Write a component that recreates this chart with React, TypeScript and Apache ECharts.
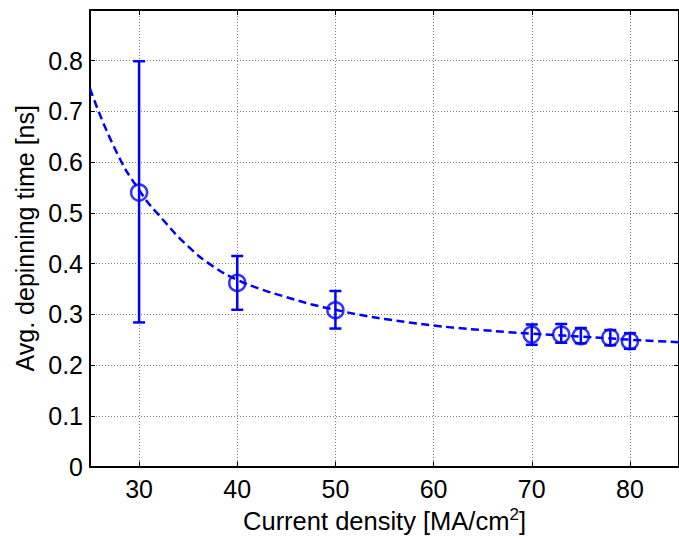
import React, { useEffect, useRef } from "react";
import * as echarts from "echarts";

const xTicks = [30, 40, 50, 60, 70, 80];
const pointX = [30, 40, 50, 70, 73, 75, 78, 80];
const pointMean = [0.54, 0.362, 0.308, 0.26, 0.26, 0.257, 0.254, 0.247];
const pointLow = [0.284, 0.309, 0.272, 0.24, 0.244, 0.243, 0.239, 0.232];
const pointHigh = [0.799, 0.415, 0.346, 0.28, 0.281, 0.273, 0.269, 0.263];
const fitX = [25, 27.5, 30, 32.5, 35, 37.5, 40, 42.5, 45, 47.5, 50, 52.5, 55, 57.5, 60, 62.5, 65, 67.5, 70, 72.5, 75, 77.5, 80, 82.5, 85];
const fitY = [0.745, 0.628, 0.545, 0.485, 0.434, 0.395, 0.368, 0.349, 0.334, 0.32, 0.309, 0.299, 0.291, 0.284, 0.278, 0.273, 0.269, 0.265, 0.262, 0.259, 0.256, 0.253, 0.25, 0.2475, 0.245];

const FONT = "'Liberation Sans', Arial, sans-serif";
const BLUE = "#0000ff";

export default function App() {
  const ref = useRef<HTMLDivElement>(null);
  useEffect(() => {
    document.body.style.margin = "0";
    const chart = echarts.init(ref.current!, null, { renderer: "svg" });
    const axisLine = { show: true, onZero: false, lineStyle: { color: "#000", width: 2 } };
    const tick = { show: true, inside: true, length: 5, lineStyle: { color: "#000", width: 1 } };
    const grid = { show: true, lineStyle: { color: "#808080", type: [1, 2] as any, width: 1 } };
    chart.setOption({
      animation: false,
      grid: { left: 90, top: 10, width: 594, height: 456.5, containLabel: false },
      xAxis: [
        {
          type: "value",
          min: 25,
          max: 85,
          position: "bottom",
          axisLine,
          axisTick: { ...tick, customValues: xTicks },
          axisLabel: { customValues: xTicks, color: "#000", fontSize: 25, fontFamily: FONT, margin: 10 },
          splitLine: grid,
          name: "{t|Current density [MA/cm}{s|2}{t|]}",
          nameLocation: "middle",
          nameGap: 32,
          nameTextStyle: {
            rich: {
              t: { fontSize: 25.5, fontFamily: FONT, color: "#000", lineHeight: 28, verticalAlign: "bottom" },
              s: { fontSize: 17, fontFamily: FONT, color: "#000", lineHeight: 17, verticalAlign: "top" },
            },
          },
        },
        {
          type: "value",
          min: 25,
          max: 85,
          position: "top",
          axisLine,
          axisTick: { ...tick, customValues: xTicks },
          axisLabel: { show: false },
          splitLine: { show: false },
        },
      ],
      yAxis: [
        {
          type: "value",
          min: 0,
          max: 0.9,
          interval: 0.1,
          position: "left",
          axisLine,
          axisTick: tick,
          axisLabel: {
            color: "#000",
            fontSize: 25,
            fontFamily: FONT,
            margin: 7,
            formatter: (v: number) => (v === 0 ? "0" : v > 0.85 ? "" : v.toFixed(1)),
          },
          splitLine: grid,
          name: "Avg. depinning time [ns]",
          nameLocation: "middle",
          nameGap: 52,
          nameTextStyle: { fontSize: 25, fontFamily: FONT, color: "#000" },
        },
        {
          type: "value",
          min: 0,
          max: 0.9,
          interval: 0.1,
          position: "right",
          axisLine,
          axisTick: tick,
          axisLabel: { show: false },
          splitLine: { show: false },
        },
      ],
      series: [
        {
          type: "line",
          data: fitX.map((x, i) => [x, fitY[i]]),
          showSymbol: false,
          smooth: 0.5,
          lineStyle: { color: BLUE, width: 2.5, type: [8, 4.5] },
          silent: true,
          z: 3,
        },
        {
          type: "custom",
          data: pointX.map((x, i) => [x, pointLow[i], pointHigh[i]]),
          renderItem: (params: any, api: any) => {
            const x = api.value(0);
            const lo = api.coord([x, api.value(1)]);
            const hi = api.coord([x, api.value(2)]);
            const hw = 6;
            const style = { stroke: BLUE, lineWidth: 2.5 };
            return {
              type: "group",
              children: [
                { type: "line", shape: { x1: lo[0], y1: lo[1], x2: hi[0], y2: hi[1] }, style },
                { type: "line", shape: { x1: lo[0] - hw, y1: lo[1], x2: lo[0] + hw, y2: lo[1] }, style },
                { type: "line", shape: { x1: hi[0] - hw, y1: hi[1], x2: hi[0] + hw, y2: hi[1] }, style },
              ],
            };
          },
          z: 4,
        },
        {
          type: "scatter",
          data: pointX.map((x, i) => [x, pointMean[i]]),
          symbol: "circle",
          symbolSize: 16,
          itemStyle: { color: "rgba(0,0,0,0)", borderColor: BLUE, borderWidth: 2.5 },
          z: 5,
        },
      ],
    });
    return () => chart.dispose();
  }, []);
  return <div ref={ref} style={{ width: 679, height: 540 }} />;
}
